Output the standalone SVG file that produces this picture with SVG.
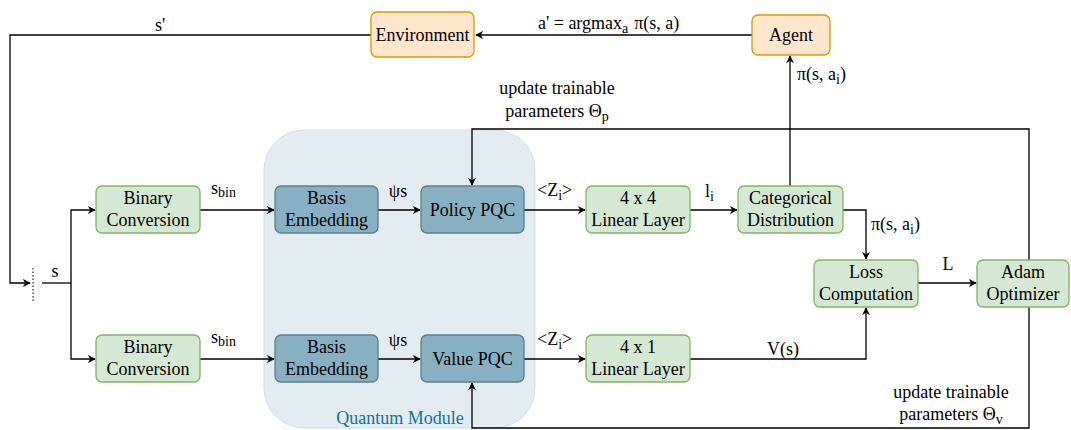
<svg xmlns="http://www.w3.org/2000/svg" width="1071" height="430" viewBox="0 0 1071 430" font-family="'Liberation Serif', 'DejaVu Serif', serif" font-size="18">
<style>
text{font-family:'Liberation Serif','DejaVu Serif',serif;font-size:18px;fill:#000}
.c{text-anchor:middle}
.g rect{fill:#d5e8d4;stroke:#82b366;stroke-width:1.3}
.o rect{fill:#ffe6cc;stroke:#d79b00;stroke-width:1.3}
.b rect{fill:#87b0c3;stroke:#5f7f8c;stroke-width:1.3}
.e{fill:none;stroke:#000;stroke-width:1.3}
.a{marker-end:url(#ah)}
.sub{font-size:14px}
</style>
<defs>
<marker id="ah" viewBox="0 0 10 10" refX="9" refY="5" markerWidth="8" markerHeight="8" markerUnits="userSpaceOnUse" orient="auto">
<path d="M0,0 L10,5 L0,10 L3,5 Z" fill="#000"/>
</marker>
</defs>
<g id="quantum-module">
<rect x="264" y="130" width="271" height="298" rx="40" fill="#e3ecf0" stroke="#d3e1e7" stroke-width="1"/>
<text x="400" y="424" class="c" style="fill:#10739e">Quantum Module</text>
</g>
<g id="connectors">
<path class="e a" d="M752,35 L476,35"/>
<path class="e a" d="M371,35 L10,35 L10,283 L30,283"/>
<path d="M33,268 L33,301" stroke="#000" stroke-width="1" stroke-dasharray="1.5,2" fill="none"/>
<path class="e" d="M42,283 L71,283"/>
<path class="e a" d="M71,283 L71,210 L95,210"/>
<path class="e a" d="M71,283 L71,359 L95,359"/>
<path class="e a" d="M200,210 L274,210"/>
<path class="e a" d="M200,359 L274,359"/>
<path class="e a" d="M378,210 L420,210"/>
<path class="e a" d="M378,359 L420,359"/>
<path class="e a" d="M524,210 L585,210"/>
<path class="e a" d="M524,359 L585,359"/>
<path class="e a" d="M690,210 L737,210"/>
<path class="e a" d="M843,210 L866,210 L866,259"/>
<path class="e a" d="M790,186 L790,56"/>
<path class="e a" d="M918,283 L976,283"/>
<path class="e a" d="M690,359 L866,359 L866,308"/>
<path class="e a" d="M1029,260 L1029,129 L472,129 L472,185"/>
<path class="e a" d="M1029,307 L1029,428 L472,428 L472,383"/>
</g>
<g id="labels">
<text x="160" y="31" class="c">s'</text>
<text x="538" y="29">a' = argmax<tspan class="sub" dy="4">a</tspan><tspan dy="-4" dx="6">π(s, a)</tspan></text>
<text x="55" y="277" class="c">s</text>
<text x="211" y="194">s<tspan class="sub" dy="3">bin</tspan></text>
<text x="211" y="343">s<tspan class="sub" dy="3">bin</tspan></text>
<text x="398" y="197" class="c">ψs</text>
<text x="398" y="346" class="c">ψs</text>
<text x="537" y="196">&lt;Z<tspan class="sub" dy="4">i</tspan><tspan dy="-4">&gt;</tspan></text>
<text x="537" y="345">&lt;Z<tspan class="sub" dy="4">i</tspan><tspan dy="-4">&gt;</tspan></text>
<text x="705" y="197">l<tspan class="sub" dy="4">i</tspan></text>
<text x="871" y="230">π(s, a<tspan class="sub" dy="4">i</tspan><tspan dy="-4">)</tspan></text>
<text x="797" y="80">π(s, a<tspan class="sub" dy="4">i</tspan><tspan dy="-4">)</tspan></text>
<text x="948" y="270" class="c">L</text>
<text x="783" y="355" class="c">V(s)</text>
<text x="557" y="94" class="c">update trainable</text>
<text x="557" y="117" class="c">parameters Θ<tspan class="sub" dy="4">p</tspan></text>
<text x="951" y="398" class="c">update trainable</text>
<text x="951" y="420" class="c">parameters Θ<tspan class="sub" dy="4">v</tspan></text>
</g>
<g id="environment" class="o"><rect x="371" y="12" width="103" height="45" rx="6"/><text x="422.5" y="41" class="c">Environment</text></g>
<g id="agent" class="o"><rect x="752" y="15" width="78" height="40" rx="6"/><text x="791" y="41" class="c">Agent</text></g>
<g id="binary-conversion-1" class="g"><rect x="96" y="186" width="104" height="47" rx="6"/><text x="148" y="204" class="c">Binary</text><text x="148" y="226" class="c">Conversion</text></g>
<g id="binary-conversion-2" class="g"><rect x="96" y="335" width="104" height="47" rx="6"/><text x="148" y="353" class="c">Binary</text><text x="148" y="375" class="c">Conversion</text></g>
<g id="basis-embedding-1" class="b"><rect x="275" y="186" width="103" height="47" rx="6"/><text x="326.5" y="204" class="c">Basis</text><text x="326.5" y="226" class="c">Embedding</text></g>
<g id="basis-embedding-2" class="b"><rect x="275" y="335" width="103" height="47" rx="6"/><text x="326.5" y="353" class="c">Basis</text><text x="326.5" y="375" class="c">Embedding</text></g>
<g id="policy-pqc" class="b"><rect x="421" y="186" width="103" height="47" rx="6"/><text x="472.5" y="216" class="c">Policy PQC</text></g>
<g id="value-pqc" class="b"><rect x="421" y="335" width="103" height="47" rx="6"/><text x="472.5" y="365" class="c">Value PQC</text></g>
<g id="linear-4x4" class="g"><rect x="586" y="186" width="104" height="47" rx="6"/><text x="638" y="204" class="c">4 x 4</text><text x="638" y="226" class="c">Linear Layer</text></g>
<g id="linear-4x1" class="g"><rect x="586" y="335" width="104" height="47" rx="6"/><text x="638" y="353" class="c">4 x 1</text><text x="638" y="375" class="c">Linear Layer</text></g>
<g id="categorical" class="g"><rect x="738" y="186" width="105" height="47" rx="6"/><text x="790.5" y="204" class="c">Categorical</text><text x="790.5" y="226" class="c">Distribution</text></g>
<g id="loss" class="g"><rect x="814" y="260" width="104" height="47" rx="6"/><text x="866" y="278" class="c">Loss</text><text x="866" y="300" class="c">Computation</text></g>
<g id="adam" class="g"><rect x="977" y="260" width="92" height="47" rx="6"/><text x="1023" y="278" class="c">Adam</text><text x="1023" y="300" class="c">Optimizer</text></g>
</svg>
